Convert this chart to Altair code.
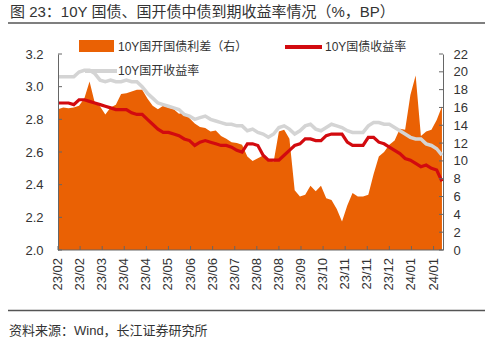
import altair as alt
import pandas as pd

# ---------------- data ----------------
dates = list(pd.date_range("2023-02-01", periods=74, freq="5D").strftime("%Y-%m-%d"))

spread = [15.8, 16.0, 15.9, 16.0, 16.2, 17.0, 18.9, 16.5, 16.1, 15.2,
          16.0, 16.3, 17.5, 17.6, 17.8, 18.0, 18.0, 17.0, 16.2, 15.8,
          16.2, 16.0, 15.8, 15.3, 15.4, 14.8, 14.2, 13.8, 13.7, 13.3,
          13.4, 12.8, 12.5, 12.1, 12.0, 11.8, 10.5, 10.0, 10.3, 10.6,
          10.2, 9.9, 13.3, 13.5, 12.5, 6.7, 6.0, 6.2, 7.2, 6.6,
          7.2, 5.8, 5.6, 4.6, 3.2, 5.0, 6.4, 6.0, 6.0, 6.2,
          8.5, 10.5, 11.0, 11.8, 12.3, 13.6, 13.5, 17.4, 19.6, 12.8,
          13.3, 13.5, 14.6, 16.1]

gov = [2.90, 2.90, 2.90, 2.89, 2.92, 2.92, 2.91, 2.90, 2.89, 2.88,
       2.87, 2.86, 2.86, 2.86, 2.84, 2.83, 2.83, 2.80, 2.77, 2.74,
       2.72, 2.72, 2.71, 2.70, 2.68, 2.67, 2.64, 2.66, 2.67, 2.66,
       2.65, 2.64, 2.64, 2.63, 2.61, 2.60, 2.65, 2.65, 2.64, 2.58,
       2.55, 2.55, 2.55, 2.58, 2.61, 2.64, 2.65, 2.68, 2.68, 2.67,
       2.67, 2.70, 2.71, 2.71, 2.71, 2.66, 2.64, 2.64, 2.64, 2.69,
       2.69, 2.66, 2.65, 2.63, 2.61, 2.59, 2.56, 2.55, 2.53, 2.51,
       2.52, 2.50, 2.49, 2.42]

cdb = [3.06, 3.06, 3.06, 3.06, 3.09, 3.10, 3.10, 3.08, 3.04, 3.03,
       3.04, 3.03, 3.03, 3.04, 3.03, 3.03, 3.00, 2.96, 2.93, 2.90,
       2.89, 2.88, 2.87, 2.86, 2.83, 2.82, 2.80, 2.81, 2.82, 2.80,
       2.79, 2.78, 2.77, 2.77, 2.76, 2.76, 2.73, 2.74, 2.72, 2.71,
       2.69, 2.71, 2.75, 2.76, 2.74, 2.71, 2.73, 2.76, 2.77, 2.74,
       2.73, 2.75, 2.77, 2.76, 2.75, 2.73, 2.72, 2.72, 2.72, 2.76,
       2.78, 2.78, 2.77, 2.77, 2.75, 2.73, 2.71, 2.69, 2.68, 2.68,
       2.65, 2.64, 2.62, 2.58]

tick_dates = ["2023-02-01", "2023-02-22", "2023-03-15", "2023-04-05", "2023-04-26",
              "2023-05-17", "2023-06-07", "2023-06-28", "2023-07-19", "2023-08-09",
              "2023-08-30", "2023-09-20", "2023-10-11", "2023-11-01", "2023-11-22",
              "2023-12-13", "2024-01-03", "2024-01-24"]
tick_labels = ["23/02", "23/02", "23/03", "23/04", "23/04", "23/05", "23/06", "23/06",
               "23/07", "23/08", "23/08", "23/09", "23/10", "23/11", "23/11", "23/12",
               "24/01", "24/01"]
left_ticks = [2.0, 2.2, 2.4, 2.6, 2.8, 3.0, 3.2]
right_ticks = [0, 2, 4, 6, 8, 10, 12, 14, 16, 18, 20, 22]

title_text = "图 23：10Y 国债、国开债中债到期收益率情况（%，BP）"
source_text = "资料来源：Wind，长江证券研究所"
legend_spread = "10Y国开国债利差（右）"
legend_gov = "10Y国债收益率"
legend_cdb = "10Y国开收益率"

# ---------------- styling ----------------
ORANGE = "#EA6104"
RED = "#D20A0F"
GRAY = "#D4D4D4"
AXC = "#666666"
TXT = "#333333"
FONT = "Liberation Sans, Noto Sans CJK SC"
W, H = 385, 196

df = pd.DataFrame({"date": dates, "spread": spread, "gov": gov, "cdb": cdb})
ticks_df = pd.DataFrame({"d": tick_dates, "lab": tick_labels})
one = pd.DataFrame({"a": [0]})


def dt(s):
    return alt.DateTime(year=int(s[:4]), month=int(s[5:7]), date=int(s[8:]), utc=True)


xscale = alt.Scale(type="utc", domain=[dt("2023-02-01"), dt("2024-02-02")])
lscale = alt.Scale(domain=[2.0, 3.2], nice=False, zero=False)
rscale = alt.Scale(domain=[0, 22], nice=False)

laxis = alt.Axis(orient="left", values=left_ticks, format=".1f", ticks=False,
                 labelPadding=15, domainColor=AXC, grid=False, title=None,
                 labelFont="Liberation Sans", labelFontSize=13, labelColor=TXT, zindex=1)
raxis = alt.Axis(orient="right", values=right_ticks, ticks=False, labelPadding=10,
                 domainColor=AXC, grid=False, title=None,
                 labelFont="Liberation Sans", labelFontSize=13, labelColor=TXT, zindex=1)

area = alt.Chart(df).mark_area(color=ORANGE, opacity=1).encode(
    x=alt.X("date:T", scale=xscale, axis=None),
    y=alt.Y("spread:Q", scale=rscale, axis=raxis),
)

gray_line = alt.Chart(df).mark_line(color=GRAY, strokeWidth=3.5).encode(
    x=alt.X("date:T", scale=xscale, axis=None),
    y=alt.Y("cdb:Q", scale=lscale, axis=laxis),
)
red_line = alt.Chart(df).mark_line(color=RED, strokeWidth=3.2).encode(
    x=alt.X("date:T", scale=xscale, axis=None),
    y=alt.Y("gov:Q", scale=lscale, axis=laxis),
)
lines = alt.layer(gray_line, red_line)

left_tk = alt.Chart(pd.DataFrame({"v": left_ticks})).mark_rule(color=AXC).encode(
    y=alt.Y("v:Q", scale=lscale, axis=None), x=alt.value(0), x2=alt.value(4))
right_tk = alt.Chart(pd.DataFrame({"v": right_ticks})).mark_rule(color=AXC).encode(
    y=alt.Y("v:Q", scale=rscale, axis=None), x=alt.value(W - 4), x2=alt.value(W))
bottom_tk = alt.Chart(ticks_df).mark_rule(color=AXC).encode(
    x=alt.X("d:T", scale=xscale, axis=None), y=alt.value(H - 4), y2=alt.value(H))
bottom_lab = alt.Chart(ticks_df).mark_text(
    angle=270, align="right", baseline="middle", fontSize=13,
    font="Liberation Sans", color=TXT).encode(
    x=alt.X("d:T", scale=xscale, axis=None), y=alt.value(H + 8), text="lab:N")


def txt(s, x, y, size, color=TXT):
    return alt.Chart(one).mark_text(text=s, align="left", baseline="middle",
                                    fontSize=size, font=FONT, color=color).encode(
        x=alt.value(x), y=alt.value(y))


def hrule(y, x1, x2, color, width):
    return alt.Chart(one).mark_rule(color=color, strokeWidth=width).encode(
        x=alt.value(x1), x2=alt.value(x2), y=alt.value(y))


deco = [
    hrule(H, 0, W, AXC, 1),
    txt(title_text, -48, -42, 15),
    hrule(-31, -50, 427, "#555555", 1.5),
    hrule(256.5, -50, 427, "#555555", 1.5),
    txt(source_text, -49, 277, 13),
    alt.Chart(one).mark_rect(color=ORANGE).encode(
        x=alt.value(21), x2=alt.value(56), y=alt.value(-14), y2=alt.value(-2)),
    txt(legend_spread, 60, -7, 12),
    hrule(-7, 227, 264, RED, 4),
    txt(legend_gov, 267, -7, 12),
    hrule(17, 27, 59, GRAY, 4),
    txt(legend_cdb, 60, 17, 12),
]

chart = alt.layer(area, lines, left_tk, right_tk, bottom_tk, bottom_lab, *deco).resolve_scale(
    y="independent"
).properties(
    width=W, height=H,
    padding={"left": 58, "top": 54, "right": 57, "bottom": 88},
    autosize=alt.AutoSizeParams(type="none"),
    background="white",
).configure_view(stroke=None)

chart.save("out.html", embed_options={"renderer": "svg", "actions": False})
